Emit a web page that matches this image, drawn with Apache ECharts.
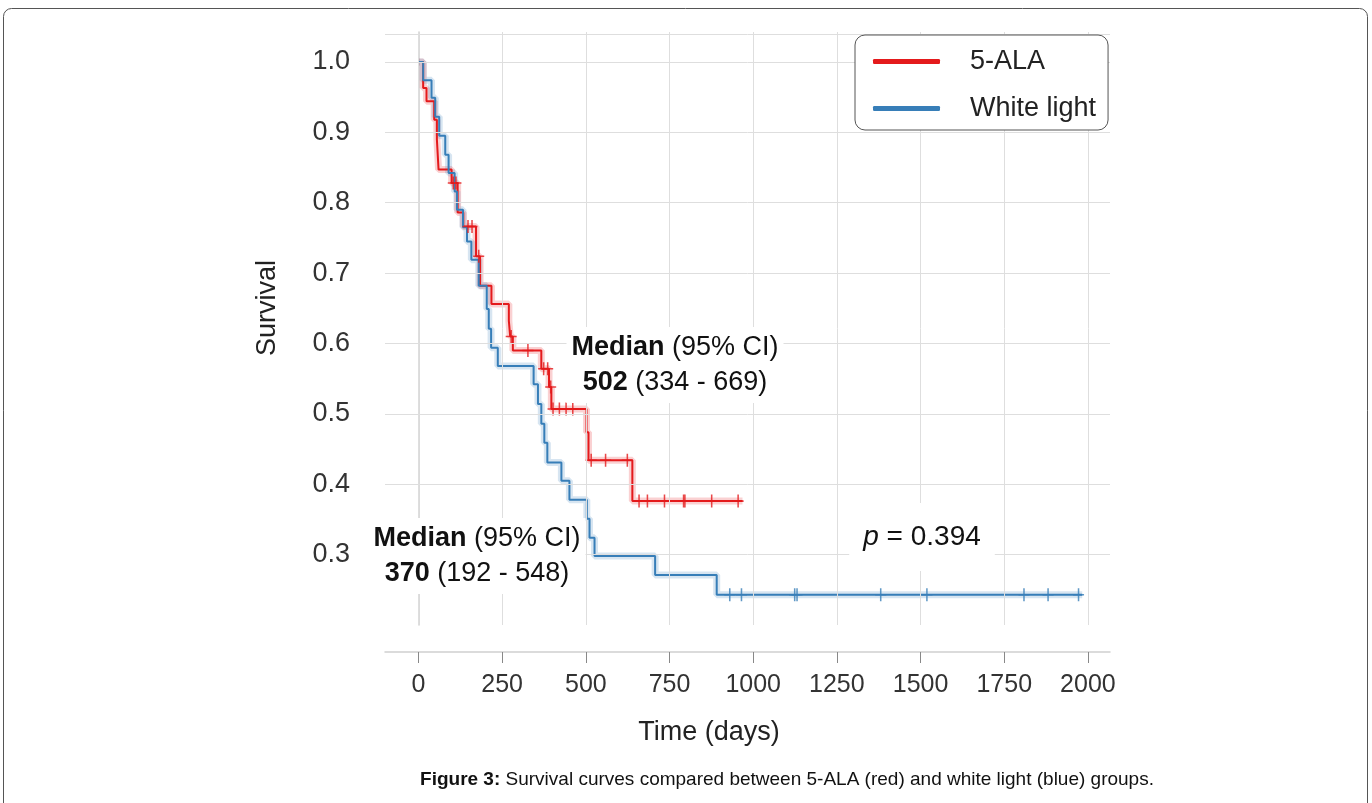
<!DOCTYPE html>
<html>
<head>
<meta charset="utf-8">
<script src="https://cdn.jsdelivr.net/npm/echarts@6/dist/echarts.min.js"></script>
<style>
html,body{margin:0;padding:0;background:#fff;}
#chart{width:1372px;height:803px;}
</style>
</head>
<body>
<div id="chart"></div>
<script>
// ---- data ----
const xTicks = [0, 250, 500, 750, 1000, 1250, 1500, 1750, 2000];
const yTicks = [0.3, 0.4, 0.5, 0.6, 0.7, 0.8, 0.9, 1.0];

const redTimes = [0, 14, 24, 47, 55, 60, 99, 117, 134, 172, 184, 218, 270, 274, 282, 367, 390, 397, 502, 508, 639];
const redSurv  = [1.0, 0.963, 0.944, 0.918, 0.890, 0.847, 0.828, 0.786, 0.766, 0.724, 0.682, 0.656, 0.632, 0.610, 0.590, 0.564, 0.538, 0.507, 0.474, 0.434, 0.376];
const redEnd = 968;
const redCensor = [104, 112, 148, 160, 180, 277, 327, 374, 386, 395, 402, 421, 441, 461, 516, 559, 624, 659, 684, 735, 792, 796, 876, 955];

const blueTimes = [0, 14, 39, 50, 62, 80, 90, 108, 115, 133, 145, 158, 180, 204, 210, 217, 237, 344, 357, 367, 376, 385, 427, 451, 503, 511, 526, 707, 891];
const blueSurv  = [1.0, 0.974, 0.949, 0.922, 0.895, 0.868, 0.842, 0.816, 0.790, 0.765, 0.745, 0.719, 0.682, 0.649, 0.621, 0.594, 0.568, 0.542, 0.514, 0.486, 0.459, 0.431, 0.405, 0.378, 0.351, 0.324, 0.298, 0.271, 0.243];
const blueEnd = 1983;
const blueCensor = [930, 965, 1124, 1131, 1381, 1519, 1809, 1881, 1972];

const seriesNames = ['5-ALA', 'White light'];
const redMedian = ['502', '(334 - 669)'];
const blueMedian = ['370', '(192 - 548)'];
const pValue = '0.394';

const X_MIN = -100, X_MAX = 2066, Y_MIN = 0.2, Y_MAX = 1.0425;

// ---- helpers ----
function steps(t, s, end) {
  const pts = t.map((v, i) => [v, s[i]]);
  pts.push([end, s[s.length - 1]]);
  return pts;
}
function survAt(t, s, x) {
  let v = s[0];
  for (let i = 0; i < t.length; i++) if (t[i] <= x) v = s[i];
  return v;
}
const RED = '#e41a1c', BLUE = '#377eb8';
const FONT = "'Liberation Sans', Arial, Helvetica, sans-serif";
const PLUS = 'path://M-5,-0.7H5V0.7H-5Z M-0.7,-6H0.7V6H-0.7Z';

const redSteps = steps(redTimes, redSurv, redEnd);
const blueSteps = steps(blueTimes, blueSurv, blueEnd);
const redCens = redCensor.map(c => [c, survAt(redTimes, redSurv, c)]);
const blueCens = blueCensor.map(c => [c, survAt(blueTimes, blueSurv, c)]);

const chart = echarts.init(document.getElementById('chart'), null, {renderer: 'canvas'});
const option = {
  animation: false,
  backgroundColor: '#fff',
  grid: {left: 385, right: 262, top: 32, bottom: 178, containLabel: false},
  xAxis: {
    type: 'value', min: X_MIN, max: X_MAX, offset: 27,
    axisLine: {show: true, lineStyle: {color: '#cfcfcf', width: 1.5}},
    axisTick: {show: true, length: 11, customValues: xTicks, lineStyle: {color: '#888', width: 1}},
    axisLabel: {customValues: xTicks, margin: 21, fontFamily: FONT, fontSize: 25, color: '#333',
                formatter: v => String(Math.round(v))},
    splitLine: {show: false}
  },
  yAxis: {
    type: 'value', min: Y_MIN, max: Y_MAX, interval: 0.1, offset: 26,
    axisLine: {show: true, lineStyle: {color: '#cfcfcf', width: 1.5}},
    axisTick: {show: false},
    axisLabel: {
      margin: 9, fontFamily: FONT, fontSize: 27, color: '#333',
      formatter: v => {
        const m = yTicks.find(t => Math.abs(t - v) < 1e-6);
        return m === undefined ? '' : m.toFixed(1);
      }
    },
    splitLine: {show: false}
  },
  legend: {
    data: seriesNames.map(n => ({name: n, icon: 'roundRect'})),
    orient: 'vertical', left: 855, top: 35, z: 10,
    padding: [13, 12, 8, 18],
    itemWidth: 67, itemHeight: 5, itemGap: 20,
    backgroundColor: '#fff', borderColor: '#555', borderWidth: 1, borderRadius: 10,
    formatter: n => '{t|' + n + '}',
    textStyle: {
      fontFamily: FONT, fontSize: 27, color: '#222',
      rich: {t: {fontFamily: FONT, fontSize: 27, color: '#222', lineHeight: 30, padding: [0, 0, 0, 25]}}
    }
  },
  series: [
    {
      name: 'grid', type: 'line', data: [], z: 1, silent: true,
      markLine: {
        silent: true, symbol: 'none', animation: false,
        label: {show: false},
        lineStyle: {color: '#dedede', width: 1, type: 'solid'},
        data: [
          ...xTicks.map(v => ({xAxis: v})),
          ...yTicks.map(v => ({yAxis: v})),
          {yAxis: Y_MAX}
        ]
      }
    },
    {name: 'red-band', type: 'line', step: 'end', data: redSteps, symbol: 'none', z: 2, silent: true,
     lineStyle: {color: RED, width: 7, opacity: 0.2}},
    {name: 'blue-band', type: 'line', step: 'end', data: blueSteps, symbol: 'none', z: 2, silent: true,
     lineStyle: {color: BLUE, width: 7, opacity: 0.2}},
    {name: seriesNames[0], type: 'line', step: 'end', data: redSteps, symbol: 'none', z: 3,
     itemStyle: {color: RED}, lineStyle: {color: RED, width: 2}},
    {name: seriesNames[1], type: 'line', step: 'end', data: blueSteps, symbol: 'none', z: 3,
     itemStyle: {color: BLUE}, lineStyle: {color: BLUE, width: 2}},
    {name: 'red-censor', type: 'scatter', data: redCens, symbol: PLUS, symbolSize: [11, 13], z: 4,
     itemStyle: {color: RED}},
    {name: 'blue-censor', type: 'scatter', data: blueCens, symbol: PLUS, symbolSize: [11, 13], z: 4,
     itemStyle: {color: BLUE}}
  ],
  graphic: [
    {type: 'rect', z: -10, silent: true,
     shape: {x: 3.5, y: 8.5, width: 1364, height: 830, r: 8},
     style: {fill: 'none', stroke: '#555', lineWidth: 1}},
    {type: 'text', z: 10, x: 268, y: 308, rotation: Math.PI / 2, silent: true,
     style: {text: 'Survival', align: 'center', verticalAlign: 'middle',
             fontFamily: FONT, fontSize: 27, fill: '#222'}},
    {type: 'text', z: 10, x: 709, y: 733, silent: true,
     style: {text: 'Time (days)', align: 'center', verticalAlign: 'middle',
             fontFamily: FONT, fontSize: 27, fill: '#222'}},
    {type: 'text', z: 10, x: 675, y: 365, silent: true,
     style: {
       text: '{b|Median} (95% CI)\n{b|' + redMedian[0] + '} ' + redMedian[1],
       align: 'center', verticalAlign: 'middle',
       fontFamily: FONT, fontSize: 27, lineHeight: 35, fill: '#111',
       backgroundColor: '#fff', padding: [3, 5],
       rich: {b: {fontWeight: 'bold', fontFamily: FONT, fontSize: 27, lineHeight: 35, fill: '#111'}}
     }},
    {type: 'text', z: 10, x: 477, y: 556, silent: true,
     style: {
       text: '{b|Median} (95% CI)\n{b|' + blueMedian[0] + '} ' + blueMedian[1],
       align: 'center', verticalAlign: 'middle',
       fontFamily: FONT, fontSize: 27, lineHeight: 35, fill: '#111',
       backgroundColor: '#fff', padding: [3, 5],
       rich: {b: {fontWeight: 'bold', fontFamily: FONT, fontSize: 27, lineHeight: 35, fill: '#111'}}
     }},
    {type: 'text', z: 10, x: 922, y: 537, silent: true,
     style: {
       text: '{i|p} = ' + pValue,
       align: 'center', verticalAlign: 'middle',
       fontFamily: FONT, fontSize: 28, fill: '#111',
       backgroundColor: '#fff', padding: [20, 14],
       rich: {i: {fontStyle: 'italic', fontFamily: FONT, fontSize: 28, fill: '#111'}}
     }},
    {type: 'text', z: 10, x: 787, y: 780, silent: true,
     style: {
       text: '{b|Figure 3:} Survival curves compared between 5-ALA (red) and white light (blue) groups.',
       align: 'center', verticalAlign: 'middle',
       fontFamily: FONT, fontSize: 19, fill: '#111',
       rich: {b: {fontWeight: 'bold', fontFamily: FONT, fontSize: 19, fill: '#111'}}
     }}
  ]
};
chart.setOption(option);
</script>
</body>
</html>
